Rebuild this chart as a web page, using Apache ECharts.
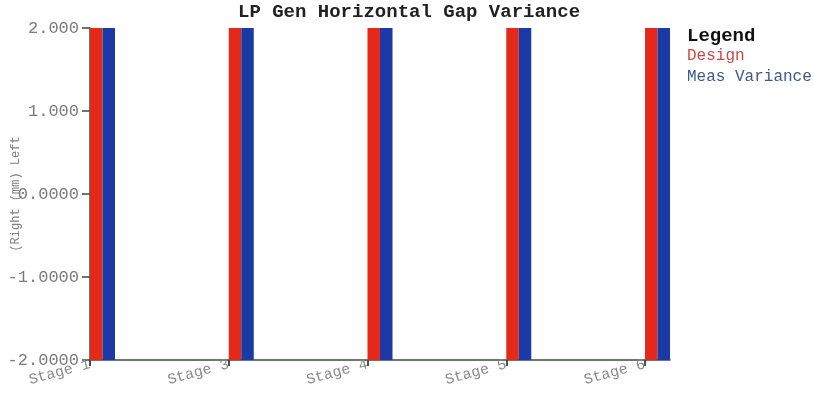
<!DOCTYPE html>
<html>
<head>
<meta charset="utf-8">
<script src="https://cdn.jsdelivr.net/npm/echarts@6/dist/echarts.min.js"></script>
<style>html,body{margin:0;padding:0;background:#fff;}#c{width:814px;height:405px;}</style>
</head>
<body>
<div id="c"></div>
<script>
const stages = ['Stage 1', 'Stage 3', 'Stage 4', 'Stage 5', 'Stage 6'];
const designValues = [2.0, 2.0, 2.0, 2.0, 2.0];
const measVarianceValues = [2.0, 2.0, 2.0, 2.0, 2.0];
const yTickLabels = ['-2.0000', '-1.0000', '0.0000', '1.000', '2.000'];
const seriesNames = ['Design', 'Meas Variance'];

const Y_MIN = -2, Y_MAX = 2;
const BAR_W = 12.5;
const FONT = '"Liberation Mono", "DejaVu Sans Mono", monospace';
const colors = ['#e4291a', '#1c3aa6'];
const legendText = ['#c94848', '#3a5a8a'];

function makeRender(k) {
  return function (params, api) {
    const top = api.coord([api.value(0), api.value(1)]);
    const bot = api.coord([api.value(0), Y_MIN]);
    return {
      type: 'rect',
      shape: { x: top[0] + k * BAR_W, y: top[1], width: BAR_W, height: bot[1] - top[1] },
      style: { fill: colors[k] }
    };
  };
}

const chart = echarts.init(document.getElementById('c'), null, { renderer: 'canvas' });
chart.setOption({
  animation: false,
  backgroundColor: '#fff',
  title: [
    { text: 'LP Gen Horizontal Gap Variance', left: 238, top: 3, padding: 0,
      textStyle: { fontFamily: FONT, fontSize: 19, fontWeight: 'bold', color: '#222' } },
    { text: 'Legend', left: 687, top: 27, padding: 0,
      textStyle: { fontFamily: FONT, fontSize: 19, fontWeight: 'bold', color: '#111' } }
  ],
  legend: {
    orient: 'vertical', left: 682, top: 48, padding: 0, itemGap: 5,
    icon: 'none', itemWidth: 0, itemHeight: 10,
    textStyle: { fontFamily: FONT, fontSize: 16 },
    data: seriesNames.map((n, i) => ({ name: n, textStyle: { color: legendText[i] } }))
  },
  grid: { left: 90, right: 144, top: 28, bottom: 45, containLabel: false, outerBoundsMode: 'none' },
  xAxis: {
    type: 'value', min: 0, max: (stages.length - 1) + 0.18,
    splitLine: { show: false },
    axisLine: { show: true, onZero: false, lineStyle: { color: '#3e4c3e', width: 1.5 } },
    axisTick: { show: true, length: 6, lineStyle: { color: '#3e5a3e', width: 2 },
      customValues: stages.map((s, i) => i) },
    axisLabel: {
      customValues: stages.map((s, i) => i),
      formatter: (v) => stages[Math.round(v)] || '',
      rotate: 15, margin: 4, color: '#8a8a8a', fontFamily: FONT, fontSize: 15
    }
  },
  yAxis: {
    type: 'value', min: Y_MIN, max: Y_MAX, interval: 1,
    name: '(Right (mm) Left', nameLocation: 'middle', nameGap: 68, nameRotate: 90,
    nameMoveOverlap: false,
    nameTextStyle: { fontFamily: FONT, fontSize: 12, color: '#808080' },
    splitLine: { show: false },
    axisLine: { show: true, onZero: false, lineStyle: { color: '#3e4c3e', width: 1.5 } },
    axisTick: { show: true, length: 8, lineStyle: { color: '#3e4c3e', width: 1.5 } },
    axisLabel: {
      formatter: (v, idx) => yTickLabels[idx],
      margin: 11, color: '#7a7a7a', fontFamily: FONT, fontSize: 17
    }
  },
  series: [
    { name: seriesNames[0], type: 'custom', renderItem: makeRender(0),
      itemStyle: { color: colors[0] }, encode: { x: 0, y: 1 },
      data: designValues.map((v, i) => [i, v]) },
    { name: seriesNames[1], type: 'custom', renderItem: makeRender(1),
      itemStyle: { color: colors[1] }, encode: { x: 0, y: 1 },
      data: measVarianceValues.map((v, i) => [i, v]) }
  ]
});
</script>
</body>
</html>
